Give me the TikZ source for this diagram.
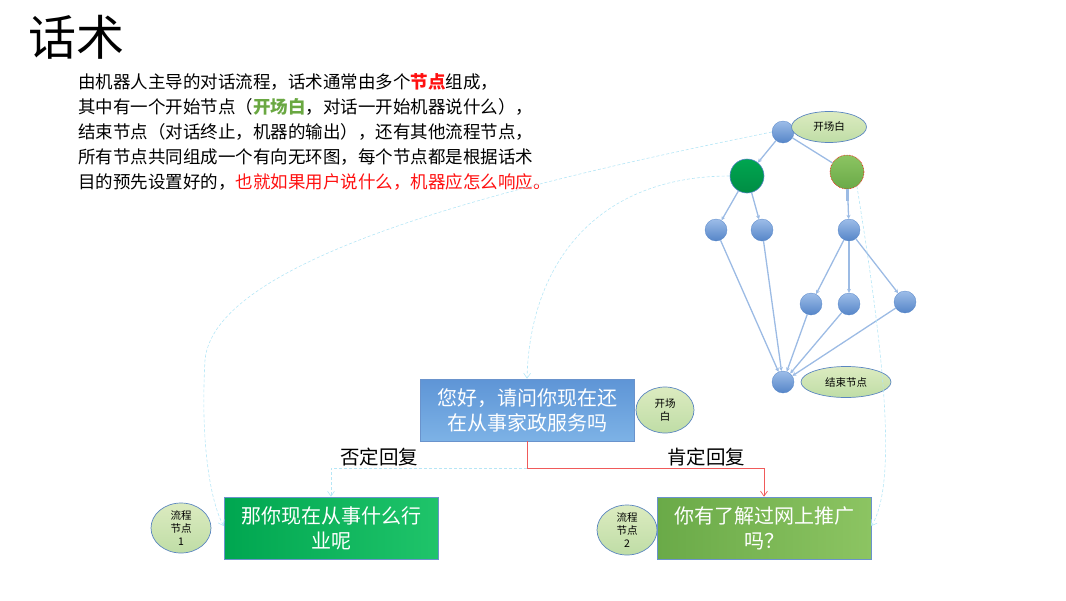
\documentclass[tikz,border=0pt]{standalone}
\usepackage{fontspec}
\setmainfont{Noto Sans CJK SC}
\usetikzlibrary{arrows.meta,shapes.geometric}
\definecolor{dotT}{HTML}{9DBDE8}
\definecolor{dotB}{HTML}{5585C8}
\definecolor{edgeC}{HTML}{9CBBE4}
\definecolor{tagD}{HTML}{5B86C0}
\definecolor{tagT}{HTML}{DCEBC0}
\definecolor{tagB}{HTML}{BFDDA6}
\definecolor{gA}{HTML}{00A650}
\definecolor{gB}{HTML}{1FC46A}
\definecolor{oA}{HTML}{6AAA48}
\definecolor{oB}{HTML}{8CC462}
\definecolor{bA}{HTML}{5E95D6}
\definecolor{bB}{HTML}{7DB2E6}
\definecolor{boxD}{HTML}{6A93CC}
\definecolor{cyanC}{HTML}{B6E6F6}
\definecolor{redC}{HTML}{F05A5A}
\definecolor{txtG}{HTML}{6AA842}
\definecolor{txtR}{HTML}{FF1010}
\begin{document}
\begin{tikzpicture}[x=1pt,y=-1pt,
  dot/.style={circle, minimum size=22pt, inner sep=0pt, top color=dotT, bottom color=dotB, draw=dotB, line width=0.3pt},
  bigdot/.style={circle, minimum size=34pt, inner sep=0pt, line width=0.6pt},
  tag/.style={ellipse, draw=tagD, line width=0.7pt, top color=tagT, bottom color=tagB, inner sep=0pt, align=center, font=\fontsize{10.5}{13}\selectfont},
  tedge/.style={draw=edgeC, line width=1.3pt, -{Stealth[length=4pt,width=4pt]}},
  tline/.style={draw=edgeC, line width=1.3pt},
  box/.style={rectangle, minimum width=214pt, minimum height=62pt, draw=boxD, line width=0.6pt, text=white, align=center, font=\fontsize{20}{25}\selectfont},
  flow/.style={draw=cyanC, densely dashed, line width=0.6pt, -{Straight Barb[length=5pt,width=7pt]}},
  redflow/.style={draw=redC, line width=0.7pt, -{Straight Barb[length=5pt,width=7pt]}},
  para/.style={anchor=west, inner sep=0pt, font=\fontsize{17.5}{20}\selectfont},
  lbl/.style={inner sep=0pt, font=\fontsize{19.5}{22}\selectfont}
]
\useasboundingbox (0,0) rectangle (1066,600);

% title and paragraph
\node[anchor=west, inner sep=0pt, font=\fontsize{48}{52}\selectfont] (title) at (28,37) {话术};
\node[para] (p1) at (78,82) {由机器人主导的对话流程，话术通常由多个\textcolor{txtR}{\bfseries 节点}组成，};
\node[para] (p2) at (78,107) {其中有一个开始节点（\textcolor{txtG}{\bfseries 开场白}，对话一开始机器说什么），};
\node[para] (p3) at (78,132) {结束节点（对话终止，机器的输出），还有其他流程节点，};
\node[para] (p4) at (78,157) {所有节点共同组成一个有向无环图，每个节点都是根据话术};
\node[para] (p5) at (78,182) {目的预先设置好的，\textcolor{txtR}{也就如果用户说什么，机器应怎么响应。}};

% tree
\node[dot] (s) at (783,132) {};
\node[tag, minimum width=75pt, minimum height=31pt] (st) at (829,127) {开场白};
\node[bigdot, top color=gA, bottom color=gA!85!black, draw=dotB] (g1) at (747,176) {};
\node[bigdot, top color=oB, bottom color=oA, draw=red, densely dotted] (g2) at (847,172) {};
\node[dot] (a1) at (716,230) {};
\node[dot] (a2) at (762,230) {};
\node[dot] (a3) at (849,230) {};
\node[dot] (b1) at (811,304) {};
\node[dot] (b2) at (849,304) {};
\node[dot] (b3) at (905,302) {};
\node[dot] (e) at (783,382) {};
\node[tag, minimum width=90pt, minimum height=31pt] (et) at (846,382) {结束节点};

\draw[tedge] (s) -- (g1);
\draw[tline] (s) -- (g2);
\draw[tedge] (g1) -- (a1);
\draw[tedge] (g1) -- (a2);
\draw[draw=edgeC, line width=3pt] (g2.south) -- ++(0,12);
\draw[tedge] (g2) -- (a3);
\draw[tedge] (a3) -- (b1);
\draw[tedge] (a3) -- (b2);
\draw[tedge] (a3) -- (b3);
\draw[tedge] (a1) -- (e);
\draw[tedge] (a2) -- (e);
\draw[tedge] (b1) -- (e);
\draw[tedge] (b2) -- (e);
\draw[tedge] (b3) -- (e);

% flow boxes
\node[box, top color=bA, bottom color=bB] (q) at (527,410) {您好，请问你现在还\\在从事家政服务吗};
\node[tag, minimum width=58pt, minimum height=46pt] (qt) at (665,410) {开场\\白};
\node[box, left color=gA, right color=gB] (n1) at (331,528) {那你现在从事什么行\\业呢};
\node[tag, minimum width=60pt, minimum height=50pt] (n1t) at (181,528) {流程\\节点\\1};
\node[box, left color=oA, right color=oB] (n2) at (764,528) {你有了解过网上推广\\吗？};
\node[tag, minimum width=60pt, minimum height=50pt] (n2t) at (627,530) {流程\\节点\\2};

\node[lbl] (no) at (379,457) {否定回复};
\node[lbl] (yes) at (706,457) {肯定回复};

\coordinate (j) at (527,468);
\draw[redflow] (q.south) -- (j) -| (n2.north);
\draw[flow] (j) -| (n1.north);

% long dashed connectors
\draw[flow] (s.west) .. controls (560,175) and (215,250) .. (205,360) .. controls (200,450) and (212,505) .. ([yshift=2pt]n1.west);
\draw[flow] (g1.west) .. controls (600,176) and (530,260) .. (q.north);
\draw[flow] (g2.-55) .. controls (880,330) and (900,480) .. ([yshift=2pt]n2.east);
\end{tikzpicture}
\end{document}
